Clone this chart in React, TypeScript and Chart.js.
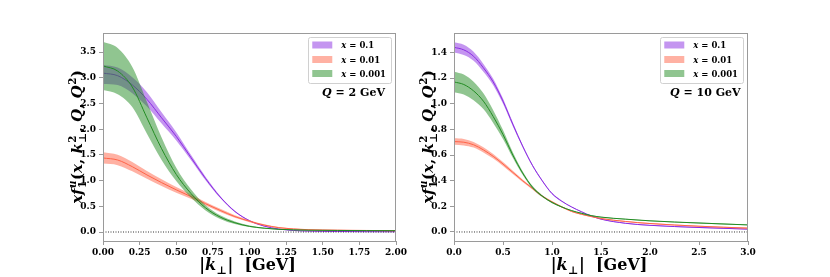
import React, { useEffect, useRef } from 'react';
import { Chart, registerables } from 'chart.js';

Chart.register(...registerables);

// ---------- data ----------
// Left panel: Q = 2 GeV
const K_LEFT = [0, 0.1, 0.2, 0.3, 0.4, 0.5, 0.6, 0.7, 0.8, 0.9, 1.0, 1.1, 1.2, 1.3, 1.4, 1.6, 1.8, 2.0];
const L_P_MID = [3.09, 3.04, 2.86, 2.58, 2.22, 1.86, 1.45, 1.04, 0.68, 0.40, 0.22, 0.115, 0.058, 0.03, 0.018, 0.01, 0.006, 0.004];
const L_P_HI = [3.25, 3.2, 3.01, 2.72, 2.33, 1.94, 1.50, 1.075, 0.70, 0.412, 0.228, 0.121, 0.063, 0.034, 0.022, 0.014, 0.01, 0.008];
const L_P_LO = [2.88, 2.86, 2.70, 2.44, 2.11, 1.78, 1.40, 1.005, 0.66, 0.388, 0.212, 0.109, 0.053, 0.026, 0.014, 0.006, 0.002, 0.0];
const L_R_MID = [1.44, 1.40, 1.27, 1.11, 0.96, 0.82, 0.69, 0.55, 0.42, 0.30, 0.21, 0.135, 0.085, 0.06, 0.045, 0.035, 0.03, 0.025];
const L_R_HI = [1.55, 1.50, 1.36, 1.185, 1.025, 0.875, 0.735, 0.585, 0.45, 0.325, 0.23, 0.15, 0.097, 0.07, 0.053, 0.043, 0.038, 0.033];
const L_R_LO = [1.33, 1.30, 1.18, 1.035, 0.895, 0.765, 0.645, 0.515, 0.39, 0.275, 0.19, 0.12, 0.073, 0.05, 0.037, 0.027, 0.022, 0.017];
const L_G_MID = [3.23, 3.13, 2.82, 2.22, 1.62, 1.12, 0.75, 0.47, 0.29, 0.18, 0.11, 0.075, 0.052, 0.042, 0.035, 0.03, 0.027, 0.025];
const L_G_HI = [3.70, 3.58, 3.21, 2.53, 1.84, 1.25, 0.83, 0.52, 0.325, 0.205, 0.125, 0.085, 0.06, 0.048, 0.04, 0.035, 0.032, 0.03];
const L_G_LO = [2.76, 2.68, 2.43, 1.91, 1.40, 0.99, 0.67, 0.42, 0.255, 0.155, 0.095, 0.065, 0.044, 0.036, 0.03, 0.025, 0.022, 0.02];

// Right panel: Q = 10 GeV
const K_RIGHT = [0, 0.1, 0.2, 0.3, 0.4, 0.5, 0.6, 0.7, 0.8, 0.9, 1.0, 1.1, 1.2, 1.3, 1.4, 1.5, 1.75, 2.0, 2.5, 3.0];
const R_P_MID = [1.44, 1.42, 1.37, 1.28, 1.17, 1.02, 0.84, 0.67, 0.52, 0.40, 0.30, 0.24, 0.195, 0.158, 0.125, 0.10, 0.068, 0.052, 0.035, 0.022];
const R_P_HI = [1.48, 1.46, 1.405, 1.31, 1.195, 1.04, 0.855, 0.68, 0.528, 0.406, 0.305, 0.244, 0.198, 0.161, 0.128, 0.103, 0.071, 0.055, 0.038, 0.025];
const R_P_LO = [1.40, 1.38, 1.335, 1.25, 1.145, 1.00, 0.825, 0.66, 0.512, 0.394, 0.295, 0.236, 0.192, 0.155, 0.122, 0.097, 0.065, 0.049, 0.032, 0.019];
const R_R_MID = [0.705, 0.70, 0.68, 0.64, 0.59, 0.53, 0.465, 0.40, 0.34, 0.28, 0.235, 0.195, 0.16, 0.138, 0.12, 0.105, 0.082, 0.066, 0.045, 0.03];
const R_R_HI = [0.73, 0.725, 0.702, 0.66, 0.608, 0.545, 0.477, 0.41, 0.348, 0.287, 0.241, 0.2, 0.164, 0.142, 0.124, 0.109, 0.086, 0.07, 0.049, 0.034];
const R_R_LO = [0.68, 0.675, 0.658, 0.62, 0.572, 0.515, 0.453, 0.39, 0.332, 0.273, 0.229, 0.19, 0.156, 0.134, 0.116, 0.101, 0.078, 0.062, 0.041, 0.026];
const R_G_MID = [1.17, 1.15, 1.10, 1.02, 0.90, 0.76, 0.60, 0.46, 0.35, 0.28, 0.23, 0.195, 0.167, 0.146, 0.128, 0.116, 0.10, 0.087, 0.07, 0.055];
const R_G_HI = [1.25, 1.228, 1.172, 1.082, 0.95, 0.795, 0.622, 0.474, 0.36, 0.287, 0.235, 0.199, 0.17, 0.149, 0.131, 0.119, 0.103, 0.09, 0.073, 0.058];
const R_G_LO = [1.09, 1.072, 1.028, 0.958, 0.85, 0.725, 0.578, 0.446, 0.34, 0.273, 0.225, 0.191, 0.164, 0.143, 0.125, 0.113, 0.097, 0.084, 0.067, 0.052];

const X_TICKS_LEFT = [0, 0.25, 0.5, 0.75, 1.0, 1.25, 1.5, 1.75, 2.0];
const Y_TICKS_LEFT = [0, 0.5, 1.0, 1.5, 2.0, 2.5, 3.0, 3.5];
const X_TICKS_RIGHT = [0, 0.5, 1.0, 1.5, 2.0, 2.5, 3.0];
const Y_TICKS_RIGHT = [0, 0.2, 0.4, 0.6, 0.8, 1.0, 1.2, 1.4];

const SERIES_X = ['0.1', '0.01', '0.001'];
const Q_VALUES = ['2', '10'];

// ---------- styling ----------
const PURPLE = '#8a2be2';
const RED = '#ff6347';
const GREEN = '#228b22';
const SERIES_COLORS = [PURPLE, RED, GREEN];
const FONT = '"DejaVu Serif", serif';
const W = 415;
const H = 277;

function rgba(hex: string, a: number) {
  const n = parseInt(hex.slice(1), 16);
  return `rgba(${(n >> 16) & 255},${(n >> 8) & 255},${n & 255},${a})`;
}

type Seg = { t?: string; it?: boolean; sup?: string; sub?: string; supIt?: boolean };

function fontOf(size: number, it?: boolean) {
  return `${it ? 'italic ' : ''}bold ${size}px ${FONT}`;
}

function segW(ctx: CanvasRenderingContext2D, s: Seg, S: number) {
  if (s.t !== undefined) {
    ctx.font = fontOf(S, s.it);
    return ctx.measureText(s.t).width;
  }
  const ss = S * 0.68;
  let w = 0;
  if (s.sup) { ctx.font = fontOf(ss, s.supIt); w = Math.max(w, ctx.measureText(s.sup).width); }
  if (s.sub) { ctx.font = fontOf(ss, false); w = Math.max(w, ctx.measureText(s.sub).width); }
  return w + 1;
}

function drawMath(ctx: CanvasRenderingContext2D, segs: Seg[], S: number, cx: number, cy: number, align: 'center' | 'left' = 'center') {
  const total = segs.reduce((a, s) => a + segW(ctx, s, S), 0);
  let x = align === 'center' ? cx - total / 2 : cx;
  const base = cy + S * 0.36;
  ctx.textBaseline = 'alphabetic';
  ctx.textAlign = 'left';
  ctx.fillStyle = '#000';
  for (const s of segs) {
    const w = segW(ctx, s, S);
    if (s.t !== undefined) {
      ctx.font = fontOf(S, s.it);
      ctx.fillText(s.t, x, base);
    } else {
      const ss = S * 0.68;
      if (s.sup) { ctx.font = fontOf(ss, s.supIt); ctx.fillText(s.sup, x + 0.5, base - S * 0.42); }
      if (s.sub) { ctx.font = fontOf(ss, false); ctx.fillText(s.sub, x + 0.5, base + S * 0.26); }
    }
    x += w;
  }
  return total;
}

const Y_LABEL: Seg[] = [
  { t: 'xf', it: true },
  { sup: 'u', sub: '1', supIt: true },
  { t: '(' },
  { t: 'x', it: true },
  { t: ', ' },
  { t: 'k', it: true },
  { sup: '2', sub: '⊥' },
  { t: ', ' },
  { t: 'Q', it: true },
  { t: ', ' },
  { t: 'Q', it: true },
  { sup: '2' },
  { t: ')' },
];

const X_LABEL: Seg[] = [
  { t: '|' },
  { t: 'k', it: true },
  { sub: '⊥' },
  { t: '|  [GeV]' },
];

type Panel = {
  left: number;
  ks: number[];
  mids: number[][];
  his: number[][];
  los: number[][];
  xMax: number;
  yMin: number;
  yMax: number;
  xTicks: number[];
  yTicks: number[];
  xDec: number;
  yDec: number;
  area: { l: number; t: number; r: number; b: number };
  q: string;
};

const PANELS: Panel[] = [
  {
    left: 0,
    ks: K_LEFT,
    mids: [L_P_MID, L_R_MID, L_G_MID],
    his: [L_P_HI, L_R_HI, L_G_HI],
    los: [L_P_LO, L_R_LO, L_G_LO],
    xMax: 2.0,
    yMin: -0.175,
    yMax: 3.87,
    xTicks: X_TICKS_LEFT,
    yTicks: Y_TICKS_LEFT,
    xDec: 2,
    yDec: 1,
    area: { l: 103, t: 33, r: 396, b: 241 },
    q: Q_VALUES[0],
  },
  {
    left: 415,
    ks: K_RIGHT,
    mids: [R_P_MID, R_R_MID, R_G_MID],
    his: [R_P_HI, R_R_HI, R_G_HI],
    los: [R_P_LO, R_R_LO, R_G_LO],
    xMax: 3.0,
    yMin: -0.0703,
    yMax: 1.5515,
    xTicks: X_TICKS_RIGHT,
    yTicks: Y_TICKS_RIGHT,
    xDec: 1,
    yDec: 1,
    area: { l: 39, t: 33, r: 333, b: 241 },
    q: Q_VALUES[1],
  },
];

function buildDatasets(p: Panel) {
  const pts = (ys: number[]) => p.ks.map((k, i) => ({ x: k, y: ys[i] }));
  const common = { pointRadius: 0, pointHoverRadius: 0, cubicInterpolationMode: 'monotone' as const };
  const ds: any[] = [
    {
      data: [{ x: 0, y: 0 }, { x: p.xMax, y: 0 }],
      borderColor: '#333',
      borderWidth: 1,
      borderDash: [1, 1.5],
      fill: false,
      pointRadius: 0,
    },
  ];
  // drawn in reverse order: last dataset first -> put green first so it lands on top
  for (let s = 2; s >= 0; s--) {
    const c = SERIES_COLORS[s];
    ds.push({ ...common, data: pts(p.mids[s]), borderColor: c, borderWidth: 1, fill: false });
    ds.push({ ...common, data: pts(p.his[s]), borderWidth: 0, borderColor: 'transparent', backgroundColor: rgba(c, 0.5), fill: '+1' });
    ds.push({ ...common, data: pts(p.los[s]), borderWidth: 0, borderColor: 'transparent', fill: false });
  }
  return ds;
}

function decorPlugin(p: Panel) {
  return {
    id: 'decor',
    afterDraw(chart: any) {
      const ctx: CanvasRenderingContext2D = chart.ctx;
      const a = chart.chartArea;
      ctx.save();
      // frame
      ctx.strokeStyle = '#9a9a9a';
      ctx.lineWidth = 1;
      ctx.strokeRect(Math.round(a.left) + 0.5, Math.round(a.top) + 0.5, Math.round(a.right - a.left) - 1, Math.round(a.bottom - a.top));

      // legend
      const LS = 8.5;
      const labelSegs = SERIES_X.map((v) => [{ t: 'x', it: true }, { t: ' = ' + v }] as Seg[]);
      const textW = Math.max(...labelSegs.map((sg) => sg.reduce((s, x) => s + segW(ctx, x, LS), 0)));
      const boxW = 4 + 20 + 9 + textW + 5;
      const boxH = 45.5;
      const bx = a.right - 5 - boxW;
      const by = a.top + 3.5;
      ctx.fillStyle = 'rgba(255,255,255,0.8)';
      ctx.strokeStyle = '#d0d0d0';
      ctx.lineWidth = 1;
      ctx.beginPath();
      (ctx as any).roundRect(Math.round(bx) + 0.5, Math.round(by) + 0.5, Math.round(boxW), Math.round(boxH), 2);
      ctx.fill();
      ctx.stroke();
      const rowY = [12, 26.5, 40.5];
      SERIES_COLORS.forEach((c, i) => {
        const cy = a.top + rowY[i];
        ctx.fillStyle = rgba(c, 0.5);
        ctx.fillRect(bx + 4, cy - 3.5, 20, 7);
        drawMath(ctx, labelSegs[i], LS, bx + 33, cy, 'left');
      });

      // Q label
      const qSegs: Seg[] = [{ t: 'Q', it: true }, { t: ` = ${p.q} GeV` }];
      drawMath(ctx, qSegs, 11, a.left + 0.855 * (a.right - a.left), a.top + 59);

      // x label
      drawMath(ctx, X_LABEL, 16, (a.left + a.right) / 2 - 2, 264);

      // y label
      ctx.save();
      ctx.translate(a.left - 26, (a.top + a.bottom) / 2);
      ctx.rotate(-Math.PI / 2);
      drawMath(ctx, Y_LABEL, 15, 0, 0);
      ctx.restore();

      ctx.restore();
    },
  };
}

function PanelChart({ p }: { p: Panel }) {
  const ref = useRef<HTMLCanvasElement>(null);
  useEffect(() => {
    if (!ref.current) return;
    const tickFont = { family: FONT, size: 9, weight: 'bold' as const };
    const chart = new Chart(ref.current, {
      type: 'line',
      data: { datasets: buildDatasets(p) },
      options: {
        animation: false,
        responsive: false,
        devicePixelRatio: 1,
        events: [],
        layout: { padding: { left: 0, top: p.area.t, right: W - p.area.r, bottom: 0 } },
        plugins: {
          legend: { display: false },
          tooltip: { enabled: false },
          title: { display: false },
          filler: { drawTime: 'beforeDatasetDraw' },
        },
        scales: {
          x: {
            type: 'linear',
            min: 0,
            max: p.xMax,
            afterFit: (s: any) => { s.height = H - p.area.b; },
            afterBuildTicks: (s: any) => { s.ticks = p.xTicks.map((v) => ({ value: v })); },
            ticks: {
              autoSkip: false,
              maxRotation: 0,
              padding: 2,
              color: '#000',
              font: tickFont,
              callback: (v: any) => Number(v).toFixed(p.xDec),
            },
            grid: { display: true, drawOnChartArea: false, drawTicks: true, tickLength: 4, color: '#9a9a9a' },
            border: { display: false },
          },
          y: {
            type: 'linear',
            min: p.yMin,
            max: p.yMax,
            afterFit: (s: any) => { s.width = p.area.l; },
            afterBuildTicks: (s: any) => { s.ticks = p.yTicks.map((v) => ({ value: v })); },
            ticks: {
              autoSkip: false,
              padding: 3,
              color: '#000',
              font: tickFont,
              callback: (v: any) => Number(v).toFixed(p.yDec),
            },
            grid: { display: true, drawOnChartArea: false, drawTicks: true, tickLength: 4, color: '#9a9a9a' },
            border: { display: false },
          },
        },
      } as any,
      plugins: [decorPlugin(p)],
    });
    return () => chart.destroy();
  }, [p]);
  return (
    <canvas
      ref={ref}
      width={W}
      height={H}
      style={{ position: 'absolute', left: p.left, top: 0, width: W, height: H, display: 'block' }}
    />
  );
}

export default function App() {
  return (
    <div style={{ position: 'absolute', left: 0, top: 0, width: 830, height: 277, background: '#fff' }}>
      {PANELS.map((p, i) => (
        <PanelChart key={i} p={p} />
      ))}
    </div>
  );
}
